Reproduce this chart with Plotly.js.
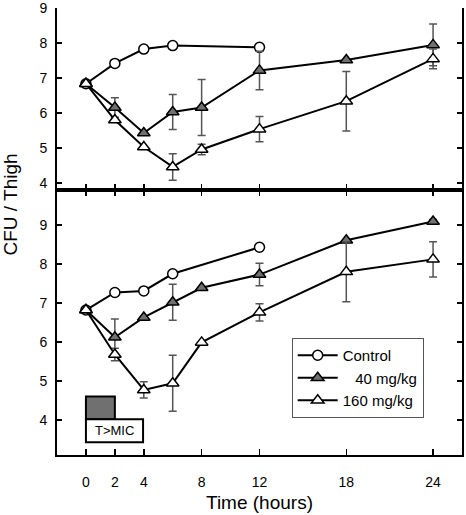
<!DOCTYPE html>
<html>
<head>
<meta charset="utf-8">
<script src="https://cdn.plot.ly/plotly-3.0.1.min.js"></script>
<style>html,body{margin:0;padding:0;background:#fff;}#chart{width:466px;height:515px;}</style>
</head>
<body>
<div id="chart"></div>
<script>
// ---- data ----
const timeTicks = [0, 2, 4, 8, 12, 18, 24];
const controlTimes = [0, 2, 4, 6, 12];
const doseTimes = [0, 2, 4, 6, 8, 12, 18, 24];
const seriesNames = ["Control", "40 mg/kg", "160 mg/kg"];
const legendLabels = ["Control", "\u00a0\u00a0 40 mg/kg", "160 mg/kg"];

// top panel
const controlTop = [6.84, 7.42, 7.83, 7.93, 7.88];
const mg40Top = [6.84, 6.16, 5.43, 6.03, 6.16, 7.22, 7.52, 7.95];
const mg40TopErr = [0, 0.28, 0, 0.50, 0.80, 0.55, 0, 0.60];
const mg160Top = [6.84, 5.80, 5.03, 4.46, 4.96, 5.54, 6.34, 7.55];
const mg160TopErr = [0, 0, 0, 0.38, 0.15, 0.36, 0.85, 0.28];

// bottom panel
const controlBot = [6.82, 7.27, 7.31, 7.75, 8.43];
const mg40Bot = [6.82, 6.12, 6.63, 7.02, 7.39, 7.73, 8.61, 9.09];
const mg40BotErr = [0, 0.47, 0, 0.46, 0, 0.29, 0, 0.05];
const mg160Bot = [6.82, 5.68, 4.77, 4.94, 5.99, 6.76, 7.80, 8.12];
const mg160BotErr = [0, 0.16, 0.21, 0.72, 0, 0.22, 0.77, 0.45];

const yTicks = [4, 5, 6, 7, 8, 9];

// T>MIC indicator (time window above MIC, in hours)
const tMicWindow = [0, 2];
const tMicLabel = "T>MIC";
const tMicBox = {x: [0, 3.95], y: [3.43, 4.02]};
const tMicBar = {y: [4.02, 4.6]};

// ---- styles ----
const errStyle = {type: 'data', visible: true, color: '#555', thickness: 1.5, width: 4};
const lineStyle = {color: '#000', width: 2};
const circleMarker = {symbol: 'circle', size: 10, color: '#fff', line: {color: '#000', width: 1.5}};
const tri40Marker = {symbol: 'triangle-up', size: 11, color: '#707070', line: {color: '#000', width: 1.5}};
const tri160Marker = {symbol: 'triangle-up', size: 11, color: '#fff', line: {color: '#000', width: 1.5}};

function series(x, y, err, marker, name, label, xa, ya, show) {
  const t = {x: x, y: y, type: 'scatter', mode: 'lines+markers', name: label,
    line: lineStyle, marker: marker, xaxis: xa, yaxis: ya, showlegend: show, cliponaxis: false};
  if (err) t.error_y = Object.assign({array: err}, errStyle);
  return t;
}

const data = [
  series(controlTimes, controlTop, null, circleMarker, seriesNames[0], legendLabels[0], 'x2', 'y2', false),
  series(doseTimes, mg40Top, mg40TopErr, tri40Marker, seriesNames[1], legendLabels[1], 'x2', 'y2', false),
  series(doseTimes, mg160Top, mg160TopErr, tri160Marker, seriesNames[2], legendLabels[2], 'x2', 'y2', false),
  series(controlTimes, controlBot, null, circleMarker, seriesNames[0], legendLabels[0], 'x', 'y', true),
  series(doseTimes, mg40Bot, mg40BotErr, tri40Marker, seriesNames[1], legendLabels[1], 'x', 'y', true),
  series(doseTimes, mg160Bot, mg160BotErr, tri160Marker, seriesNames[2], legendLabels[2], 'x', 'y', true)
];

const font = {family: 'Liberation Sans, Arial, sans-serif', color: '#000'};
const plotH = 515 - 8 - 60;
const split = 265 / plotH;
const axBase = {showline: true, linewidth: 2, linecolor: '#000', showgrid: false, zeroline: false,
  ticks: 'inside', tickcolor: '#000', tickwidth: 1.5, tickfont: {size: 14}, ticklabeloverflow: 'allow'};

const layout = {
  width: 466, height: 515,
  margin: {l: 57, r: 4, t: 8, b: 60},
  paper_bgcolor: '#fff', plot_bgcolor: '#fff',
  font: font,
  showlegend: true,
  xaxis: Object.assign({}, axBase, {domain: [0, 1], range: [-2, 26], anchor: 'y',
    tickvals: timeTicks, ticklen: 6, mirror: 'ticks', ticklabelstandoff: 13}),
  xaxis2: Object.assign({}, axBase, {domain: [0, 1], range: [-2, 26], anchor: 'y2', matches: 'x',
    tickvals: timeTicks, ticklen: 6, showticklabels: false}),
  yaxis: Object.assign({}, axBase, {domain: [0, split], range: [3.1, 9.9], anchor: 'x',
    tickvals: yTicks, ticklen: 5, mirror: 'ticks', ticklabelstandoff: 5}),
  yaxis2: Object.assign({}, axBase, {domain: [split, 1], range: [3.8, 9.005], anchor: 'x2',
    tickvals: yTicks, ticklen: 5, mirror: 'ticks', ticklabelstandoff: 5}),
  legend: {x: (291.7 - 57) / 405, y: (455 - 338) / plotH, xanchor: 'left', yanchor: 'top', bgcolor: '#fff',
    bordercolor: '#555', borderwidth: 1, font: {size: 15}, tracegroupgap: 0, itemwidth: 40},
  shapes: [
    {type: 'rect', xref: 'x', yref: 'y', x0: tMicWindow[0], x1: tMicWindow[1], y0: tMicBar.y[0], y1: tMicBar.y[1],
      fillcolor: '#707070', line: {color: '#000', width: 2}},
    {type: 'rect', xref: 'x', yref: 'y', x0: tMicBox.x[0], x1: tMicBox.x[1], y0: tMicBox.y[0], y1: tMicBox.y[1],
      fillcolor: '#fff', line: {color: '#000', width: 2}}
  ],
  annotations: [
    {xref: 'x', yref: 'y', x: (tMicBox.x[0] + tMicBox.x[1]) / 2, y: (tMicBox.y[0] + tMicBox.y[1]) / 2,
      text: tMicLabel, showarrow: false, font: {size: 13}, xanchor: 'center', yanchor: 'middle'},
    {xref: 'paper', yref: 'paper', x: (9.5 - 57) / 405, y: (455 - 205) / plotH, text: 'CFU / Thigh', textangle: -90,
      showarrow: false, font: {size: 19}, xanchor: 'center', yanchor: 'middle'},
    {xref: 'paper', yref: 'paper', x: 0.5, y: (455 - 502) / plotH, text: 'Time (hours)', showarrow: false,
      font: {size: 19}, xanchor: 'center', yanchor: 'middle'}
  ]
};

Plotly.newPlot('chart', data, layout, {displayModeBar: false, staticPlot: true});
</script>
</body>
</html>
